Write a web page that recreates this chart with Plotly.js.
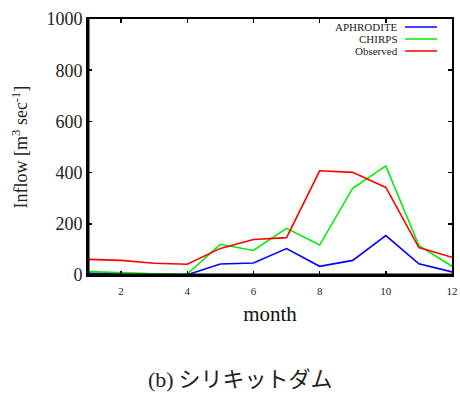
<!DOCTYPE html>
<html>
<head>
<meta charset="utf-8">
<script src="https://cdn.plot.ly/plotly-3.0.1.min.js"></script>
<style>html,body{margin:0;padding:0;background:#fff;}#chart{width:460px;height:396px;}</style>
</head>
<body>
<div id="chart"></div>
<script>
const months = [1,2,3,4,5,6,7,8,9,10,11,12];
const aphrodite = [8,3,2,1,43,47,103,34,57,154,44,12];
const chirps = [13,8,5,4,120,96,182,117,339,426,115,34];
const observed = [61,57,46,42,104,139,146,407,401,342,107,69];
const seriesNames = ['APHRODITE','CHIRPS','Observed'];
const seriesColors = ['#0000ff','#00ee00','#ff0000'];
const seriesData = [aphrodite, chirps, observed];
const xTicks = [2,4,6,8,10,12];
const yTicks = [0,200,400,600,800,1000];

const serif = 'Liberation Serif, Times New Roman, serif';
const traces = seriesData.map((d,i)=>({
  x: months, y: d, type:'scatter', mode:'lines', name: seriesNames[i],
  line:{color: seriesColors[i], width:1.6}, showlegend:false
}));

const legY = [0.969, 0.922, 0.875];
const annotations = seriesNames.map((n,i)=>({
  xref:'paper', yref:'paper', x:0.857, y:legY[i], xanchor:'right', yanchor:'middle',
  text:n, showarrow:false, font:{family:serif, size:11, color:'#222'}
}));
annotations.push({
  xref:'paper', yref:'paper', x:0.418, y:-0.40, xanchor:'center', yanchor:'middle',
  text:'<span style="font-family:Liberation Serif">(b)</span> シリキットダム', showarrow:false,
  font:{family:'Noto Sans CJK JP', size:22, color:'#222'}
});
const shapes = seriesNames.map((n,i)=>({
  type:'line', xref:'paper', yref:'paper', x0:0.871, x1:0.959, y0:legY[i], y1:legY[i],
  line:{color:seriesColors[i], width:1.6}
}));
shapes.push({type:'line', xref:'paper', yref:'paper', x0:0, x1:0, y0:0, y1:1, line:{color:'#000', width:3}});
shapes.push({type:'line', xref:'paper', yref:'paper', x0:0, x1:1, y0:0, y1:0, line:{color:'#000', width:3}});

const layout = {
  width:460, height:396,
  margin:{l:88, r:8, t:19, b:121},
  paper_bgcolor:'#fff', plot_bgcolor:'#fff',
  xaxis:{
    range:[1,12], tickvals:xTicks, ticktext:xTicks.map(String),
    ticks:'inside', ticklen:4, tickwidth:1.5, tickcolor:'#000',
    showline:true, linecolor:'#000', linewidth:2, mirror:'allticks',
    showgrid:false, zeroline:false, ticklabelstandoff:5,
    tickfont:{family:serif, size:11, color:'#222'},
    title:{text:'month', font:{family:serif, size:21, color:'#111'}, standoff:10}
  },
  yaxis:{
    range:[0,1000], tickvals:yTicks, ticktext:yTicks.map(String),
    ticks:'inside', ticklen:4, tickwidth:1.5, tickcolor:'#000',
    showline:true, linecolor:'#000', linewidth:2, mirror:'allticks',
    showgrid:false, zeroline:false,
    tickfont:{family:serif, size:18, color:'#222'},
    title:{text:'Inflow [m<sup>3</sup> sec<sup>-1</sup>]', font:{family:serif, size:18, color:'#222'}, standoff:14}
  },
  annotations: annotations,
  shapes: shapes
};
Plotly.newPlot('chart', traces, layout, {displayModeBar:false, staticPlot:true});
</script>
</body>
</html>
